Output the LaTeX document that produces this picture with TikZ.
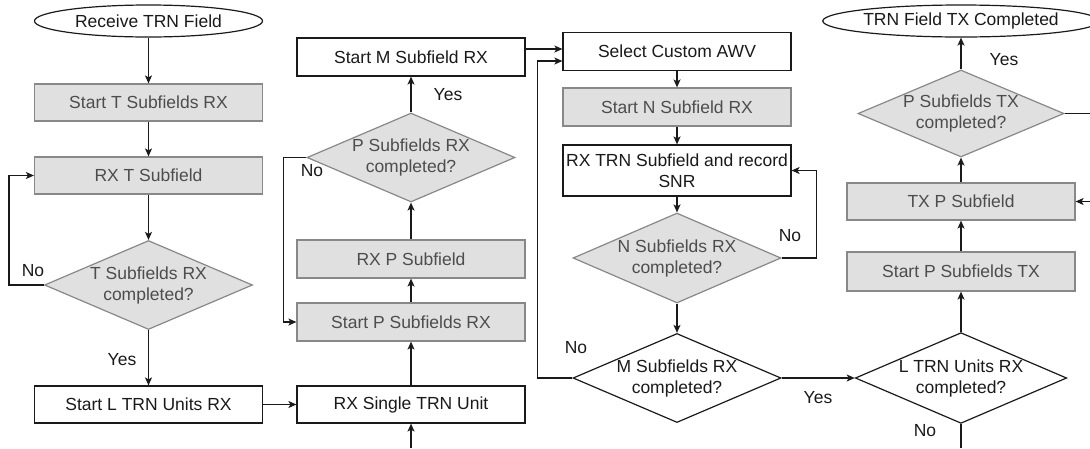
\documentclass[tikz,border=0pt]{standalone}
\usepackage{fontspec}
\setmainfont{Liberation Sans}
\usetikzlibrary{shapes.geometric,arrows.meta}
\definecolor{boxgray}{HTML}{E0E0E0}
\definecolor{edgegray}{HTML}{888888}
\definecolor{txtgray}{HTML}{4D4D4D}
\definecolor{ink}{HTML}{1A1A1A}
\tikzset{
  base/.style={font=\fontsize{17.5}{21}\selectfont, inner sep=0pt, align=center},
  whitebox/.style={base, rectangle, draw=ink, line width=1.2pt, fill=white, text=ink, minimum width=228pt, minimum height=38pt},
  graybox/.style={base, rectangle, draw=edgegray, line width=1.2pt, fill=boxgray, text=txtgray, minimum width=228pt, minimum height=38pt},
  graydec/.style={base, diamond, aspect=2.33, draw=edgegray, line width=1.2pt, fill=boxgray, text=txtgray, minimum width=208pt, minimum height=89pt},
  whitedec/.style={base, diamond, aspect=2.33, draw=ink, line width=1.2pt, fill=white, text=ink, minimum width=208pt, minimum height=89pt},
  terminal/.style={base, ellipse, draw=ink, line width=1.2pt, fill=white, text=ink, minimum width=228pt, minimum height=32pt},
  conn/.style={draw=ink, line width=1.2pt},
  arr/.style={conn, -{Stealth[length=8pt,width=7pt,inset=2pt]}},
  lbl/.style={font=\fontsize{17.5}{21}\selectfont, text=ink, inner sep=0pt}
}
\begin{document}
\begin{tikzpicture}[x=1pt,y=-1pt]
\useasboundingbox (0,0) rectangle (1090,448);
% column 1
\node[terminal] (recv) at (148.5,21) {Receive TRN Field};
\node[graybox, minimum height=37pt] (startT) at (148.5,102.5) {Start T Subfields RX};
\node[graybox, minimum height=37pt] (rxT) at (148.5,175.5) {RX T Subfield};
\node[graydec] (decT) at (148.5,285) {T Subfields RX\\completed?};
\node[whitebox, minimum height=37pt] (startL) at (148.5,404.5) {Start L TRN Units RX};
% column 2
\node[whitebox, minimum height=37pt] (rxSingle) at (411,404.5) {RX Single TRN Unit};
\node[graybox] (startP) at (411,322) {Start P Subfields RX};
\node[graybox] (rxP) at (411,259) {RX P Subfield};
\node[graydec] (decP) at (411,157.5) {P Subfields RX\\completed?};
\node[whitebox] (startM) at (411,57) {Start M Subfield RX};
% column 3
\node[whitebox] (selAWV) at (677,51.5) {Select Custom AWV};
\node[graybox] (startN) at (677,107) {Start N Subfield RX};
\node[whitebox, minimum height=51pt] (rxTRN) at (677,170.5) {RX TRN Subfield and record\\SNR};
\node[graydec, minimum height=90pt] (decN) at (677,258) {N Subfields RX\\completed?};
\node[whitedec, minimum height=88pt] (decM) at (677,378) {M Subfields RX\\completed?};
% column 4
\node[whitedec, minimum height=88pt] (decL) at (961,378) {L TRN Units RX\\completed?};
\node[graybox, minimum height=39pt] (startPTX) at (961,271.5) {Start P Subfields TX};
\node[graybox, minimum height=37pt] (txP) at (961,201.5) {TX P Subfield};
\node[graydec, minimum width=206pt, minimum height=87pt] (decPTX) at (961,113.5) {P Subfields TX\\completed?};
\node[terminal] (done) at (961,21) {TRN Field TX Completed};
% free ends
\coordinate (botA) at (411,448);
\coordinate (botB) at (961,448);
\coordinate (rightA) at (1090,201.5);
\coordinate (rightB) at (1090,113.5);
% connectors column 1
\draw[arr] (recv) -- (startT);
\draw[arr] (startT) -- (rxT);
\draw[arr] (rxT) -- (decT);
\draw[arr] (decT.west) -- ++(-35,0) |- (rxT.west);
\node[lbl] (noT) at (33,271) {No};
\draw[arr] (decT) -- (startL);
\node[lbl] (yesT) at (122,360) {Yes};
\draw[arr] (startL) -- (rxSingle);
% column 2
\draw[arr] (botA) -- (rxSingle.south);
\draw[arr] (rxSingle) -- (startP);
\draw[arr] (startP) -- (rxP);
\draw[arr] (rxP) -- (decP);
\draw[arr] (decP.west) -- ++(-23,0) |- (startP.west);
\node[lbl] (noP) at (312,171) {No};
\draw[arr] (decP) -- (startM);
\node[lbl] (yesP) at (448,95) {Yes};
\draw[arr] ([yshift=8pt]startM.east) -- ([yshift=8pt]startM.east -| selAWV.west);
% column 3
\draw[arr] (decM.west) -- ++(-35,0) |- ([yshift=-9.5pt]selAWV.west);
\node[lbl] (noM) at (576,348) {No};
\draw[arr] (selAWV) -- (startN);
\draw[arr] (startN) -- (rxTRN);
\draw[arr] (rxTRN) -- (decN);
\draw[arr] (decN) -- (decM);
\draw[arr] (decN.east) -- ++(34.5,0) |- (rxTRN.east);
\node[lbl] (noN) at (790,236) {No};
\draw[arr] (decM) -- (decL);
\node[lbl] (yesM) at (818,398) {Yes};
% column 4
\draw[conn] (decL.south) -- (botB);
\node[lbl] (noL) at (925,431) {No};
\draw[arr] (decL) -- (startPTX);
\draw[arr] (startPTX) -- (txP);
\draw[arr] (rightA) -- (txP.east);
\draw[arr] (txP) -- (decPTX);
\draw[conn] (decPTX.east) -- (rightB);
\draw[arr] (decPTX) -- (done);
\node[lbl] (yesPTX) at (1004,60) {Yes};
\end{tikzpicture}
\end{document}
